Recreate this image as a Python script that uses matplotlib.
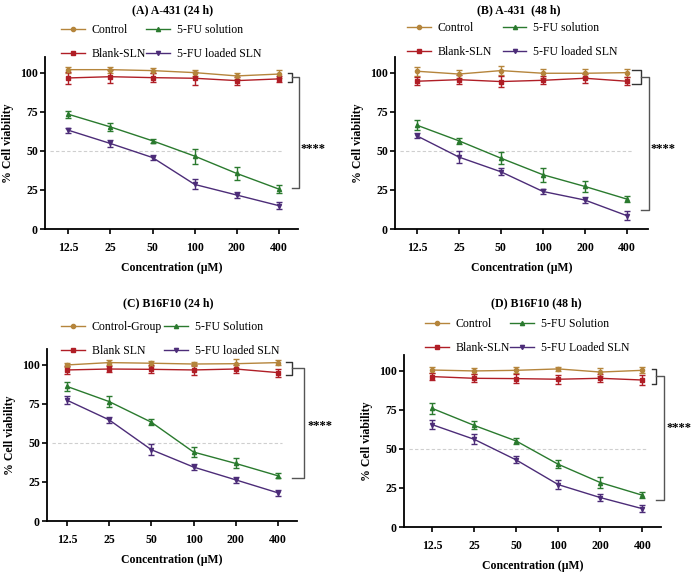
import matplotlib
matplotlib.use("Agg")
import matplotlib.pyplot as plt
import numpy as np

plt.rcParams['font.family'] = ['Liberation Serif', 'DejaVu Serif']

CONC_LABELS = ['12.5', '25', '50', '100', '200', '400']

# Panel A: A-431 (24 h)
A_CONTROL = [101.9, 101.9, 101.3, 100.0, 97.9, 99.1]
A_CONTROL_ERR = [2.0, 2.0, 1.5, 2.0, 2.0, 2.5]
A_BLANK = [96.6, 97.4, 96.8, 96.4, 94.9, 96.0]
A_BLANK_ERR = [4.0, 4.0, 3.0, 4.0, 2.5, 2.0]
A_SOL = [73.4, 65.3, 56.4, 46.6, 35.5, 25.5]
A_SOL_ERR = [2.1, 2.6, 1.3, 4.8, 4.2, 2.4]
A_LOAD = [63.2, 54.7, 45.7, 28.5, 21.7, 14.9]
A_LOAD_ERR = [1.5, 2.1, 1.7, 3.2, 1.7, 2.3]

# Panel B: A-431 (48 h)
B_CONTROL = [100.9, 99.1, 101.3, 99.6, 99.6, 100.0]
B_CONTROL_ERR = [3.0, 2.5, 3.0, 3.0, 2.5, 2.5]
B_BLANK = [94.5, 95.5, 94.3, 95.1, 96.4, 94.5]
B_BLANK_ERR = [2.5, 3.0, 3.5, 2.5, 3.0, 2.5]
B_SOL = [66.4, 56.4, 45.3, 34.7, 27.2, 19.1]
B_SOL_ERR = [3.0, 1.8, 4.0, 4.6, 3.7, 2.1]
B_LOAD = [59.6, 46.0, 36.6, 24.0, 18.5, 8.5]
B_LOAD_ERR = [1.6, 4.1, 2.3, 1.9, 1.8, 2.9]

# Panel C: B16F10 (24 h)
C_CONTROL = [99.8, 101.3, 100.9, 100.4, 100.6, 101.3]
C_CONTROL_ERR = [1.5, 1.5, 1.5, 1.5, 3.0, 1.5]
C_BLANK = [96.6, 97.2, 97.0, 96.6, 97.2, 94.9]
C_BLANK_ERR = [2.5, 2.0, 2.5, 3.0, 2.5, 2.5]
C_SOL = [86.1, 76.4, 63.2, 44.1, 36.8, 28.9]
C_SOL_ERR = [2.9, 3.4, 2.1, 3.2, 3.2, 1.6]
C_LOAD = [77.3, 64.7, 45.6, 34.5, 26.3, 18.0]
C_LOAD_ERR = [2.7, 2.0, 3.6, 2.0, 1.8, 2.0]

# Panel D: B16F10 (48 h)
D_CONTROL = [100.4, 99.8, 100.2, 101.1, 99.1, 100.2]
D_CONTROL_ERR = [2.0, 2.0, 2.0, 1.5, 2.5, 2.0]
D_BLANK = [96.2, 95.1, 94.9, 94.5, 95.1, 94.0]
D_BLANK_ERR = [2.5, 2.5, 3.0, 3.0, 2.5, 3.0]
D_SOL = [75.9, 65.0, 55.0, 40.1, 28.4, 20.3]
D_SOL_ERR = [3.7, 2.5, 2.1, 2.5, 3.3, 1.9]
D_LOAD = [65.5, 56.1, 42.9, 27.1, 18.8, 11.7]
D_LOAD_ERR = [3.1, 3.2, 2.2, 3.0, 2.3, 2.1]

TITLES = ['(A) A-431 (24 h)', '(B) A-431  (48 h)', '(C) B16F10 (24 h)', '(D) B16F10 (48 h)']
LABELS_A = ['Control', 'Blank-SLN', '5-FU solution', '5-FU loaded SLN']
LABELS_B = ['Control', 'Blank-SLN', '5-FU solution', '5-FU loaded SLN']
LABELS_C = ['Control-Group', 'Blank SLN', '5-FU Solution', '5-FU loaded SLN']
LABELS_D = ['Control', 'Blank-SLN', '5-FU Solution', '5-FU Loaded SLN']

COLORS = ['#B5853C', '#B01E26', '#2A7A2E', '#4C2C78']
MARKERS = ['o', 's', '^', 'v']

W, H = 693, 577
fig = plt.figure(figsize=(W / 100, H / 100), dpi=100)

def fx(px):
    return px / W

def fy(py):
    return 1 - py / H

panels = [
    dict(rect=(45, 298, 57, 229), xlim=(-0.55, 5.45),
         data=[(A_CONTROL, A_CONTROL_ERR), (A_BLANK, A_BLANK_ERR), (A_SOL, A_SOL_ERR), (A_LOAD, A_LOAD_ERR)],
         labels=LABELS_A, title=TITLES[0], title_xy=(173, 10), leg_xy=(61, 24), colsp=0.0,
         small=(5.22, 5.30, 100.0, 94.0), big=(5.30, 5.48, 97.5, 26.0), stars=(5.50, 51)),
    dict(rect=(395, 648, 57, 229), xlim=(-0.52, 5.5),
         data=[(B_CONTROL, B_CONTROL_ERR), (B_BLANK, B_BLANK_ERR), (B_SOL, B_SOL_ERR), (B_LOAD, B_LOAD_ERR)],
         labels=LABELS_B, title=TITLES[1], title_xy=(519, 10), leg_xy=(407, 22), colsp=0.9,
         small=(5.13, 5.33, 101.5, 93.0), big=(5.33, 5.53, 97.5, 12.0), stars=(5.55, 51)),
    dict(rect=(47, 297, 349, 521), xlim=(-0.47, 5.45),
         data=[(C_CONTROL, C_CONTROL_ERR), (C_BLANK, C_BLANK_ERR), (C_SOL, C_SOL_ERR), (C_LOAD, C_LOAD_ERR)],
         labels=LABELS_C, title=TITLES[2], title_xy=(168, 303), leg_xy=(61, 321), colsp=0.2,
         small=(5.20, 5.32, 101.9, 93.1), big=(5.32, 5.61, 97.6, 27.4), stars=(5.69, 60.6)),
    dict(rect=(404, 661, 355, 527), xlim=(-0.665, 5.44),
         data=[(D_CONTROL, D_CONTROL_ERR), (D_BLANK, D_BLANK_ERR), (D_SOL, D_SOL_ERR), (D_LOAD, D_LOAD_ERR)],
         labels=LABELS_D, title=TITLES[3], title_xy=(536, 303), leg_xy=(425, 318), colsp=0.0,
         small=(5.22, 5.32, 101.3, 91.3), big=(5.32, 5.52, 96.4, 17.3), stars=(5.58, 63.5)),
]

x = np.arange(len(CONC_LABELS))

for p in panels:
    l, r, t, b = p['rect']
    ax = fig.add_axes([fx(l), fy(b), (r - l) / W, (b - t) / H])
    ax.set_xlim(*p['xlim'])
    ax.set_ylim(0, 110)
    ax.axhline(50, xmin=0.02, xmax=0.94, color='#cfcfcf', lw=0.8, ls=(0, (3, 2)), zorder=0)
    handles = []
    for (vals, errs), c, m, lab in zip(p['data'], COLORS, MARKERS, p['labels']):
        h = ax.errorbar(x, vals, yerr=errs, color=c, marker=m, markersize=3,
                        lw=1.0, elinewidth=1.0, capsize=2, capthick=1.0)
        handles.append(h[0])
    for s in ['top', 'right']:
        ax.spines[s].set_visible(False)
    for s in ['left', 'bottom']:
        ax.spines[s].set_linewidth(1.3)
    ax.set_xticks(x)
    ax.set_xticklabels(CONC_LABELS)
    ax.set_yticks([0, 25, 50, 75, 100])
    ax.tick_params(axis='both', length=3.6, width=1.2, labelsize=8.5)
    ax.tick_params(axis='y', pad=1.5)
    ax.tick_params(axis='x', pad=5.5)
    for lbl in ax.get_xticklabels() + ax.get_yticklabels():
        lbl.set_fontweight('bold')
    ax.set_xlabel('Concentration (\u00b5M)', fontsize=8.5, fontweight='bold', labelpad=6)
    ax.set_ylabel('% Cell viability', fontsize=8.5, fontweight='bold', labelpad=4)
    # brackets
    sx1, sx2, sy1, sy2 = p['small']
    ax.plot([sx1, sx2, sx2, sx1], [sy1, sy1, sy2, sy2], color='#333333', lw=1.0, clip_on=False)
    bx1, bx2, by1, by2 = p['big']
    ax.plot([bx1, bx2, bx2, bx1], [by1, by1, by2, by2], color='#555555', lw=1.0, clip_on=False)
    ax.text(p['stars'][0], p['stars'][1], '****', fontsize=9, fontweight='bold',
            ha='left', va='center', clip_on=False)
    fig.text(fx(p['title_xy'][0]), fy(p['title_xy'][1]), p['title'], fontsize=8.5,
             fontweight='bold', ha='center', va='center')
    ax.legend(handles, p['labels'], ncol=2, loc='upper left',
              bbox_to_anchor=(fx(p['leg_xy'][0]), fy(p['leg_xy'][1])),
              bbox_transform=fig.transFigure, frameon=False, fontsize=8.5,
              handlelength=2.0, handletextpad=0.6, columnspacing=p['colsp'],
              labelspacing=1.0, borderpad=0, borderaxespad=0)

fig.savefig('out.png', dpi=100)
